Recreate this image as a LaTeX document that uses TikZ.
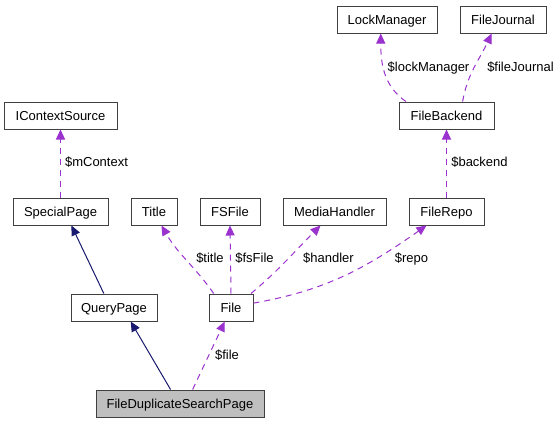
\documentclass[tikz,border=0pt]{standalone}
\usepackage{fontspec}
\setmainfont{Liberation Sans}
\usetikzlibrary{arrows.meta}
\definecolor{cuse}{HTML}{9A32CD}
\definecolor{cinh}{HTML}{191970}
\tikzset{
  cls/.style={draw=black!75,line width=1pt,minimum height=27pt,inner sep=0pt,text height=12.3pt,text depth=3pt},
  uses/.style={cuse,line width=1pt,dash pattern=on 6pt off 5pt,-{Triangle[length=10pt,width=9pt]}},
  inherits/.style={cinh,line width=1pt,-{Triangle[length=10pt,width=9pt]}},
  lbl/.style={inner sep=0pt,text height=12.3pt,text depth=3pt}
}
\begin{document}
\begin{tikzpicture}[x=1pt,y=-1pt,font=\fontsize{13}{15}\selectfont]
\useasboundingbox (0,0) rectangle (560,424);
\node[cls,minimum width=100pt] (lm) at (387,19.5) {LockManager};
\node[cls,minimum width=86pt] (fj) at (503,19.5) {FileJournal};
\node[cls,minimum width=113pt] (ics) at (60.5,115.5) {IContextSource};
\node[cls,minimum width=95pt] (fb) at (446.5,115.5) {FileBackend};
\node[cls,minimum width=95pt] (sp) at (60.5,211.5) {SpecialPage};
\node[cls,minimum width=46pt] (title) at (154,211.5) {Title};
\node[cls,minimum width=60pt] (fsf) at (230,211.5) {FSFile};
\node[cls,minimum width=103pt] (mh) at (334.5,211.5) {MediaHandler};
\node[cls,minimum width=75pt] (fr) at (446.5,211.5) {FileRepo};
\node[cls,minimum width=86pt] (qp) at (114,307.5) {QueryPage};
\node[cls,minimum width=44pt] (file) at (231,307.5) {File};
\node[cls,minimum width=168pt,fill=black!25] (fdsp) at (180,403.5) {FileDuplicateSearchPage};
% inheritance
\draw[inherits] (qp.126) -- (sp.-52);
\draw[inherits] (fdsp.124) -- (qp.-40);
% members
\draw[uses] (sp.north) -- (ics.south);
\node[lbl] (l1) at (96.5,162) {\$mContext};
\draw[uses] (fdsp.48) -- (file.-114);
\node[lbl] (l2) at (227,355) {\$file};
\draw[uses] (file.141) to[out=125,in=-60] (title.-62);
\node[lbl] (l3) at (210,258) {\$title};
\draw[uses] (file.north) -- (fsf.south);
\node[lbl] (l4) at (254.5,258) {\$fsFile};
\draw[uses] (file.35) to[out=40,in=-135] (mh.-135);
\node[lbl] (l5) at (328.5,258) {\$handler};
\draw[uses] (file.11) to[out=10,in=-145] (fr.-145);
\node[lbl] (l6) at (411.5,258) {\$repo};
\draw[uses] (fr.north) -- (fb.south);
\node[lbl] (l7) at (479.5,162) {\$backend};
\draw[uses] (fb.161) to[out=145,in=-90] (lm.-114);
\node[lbl] (l8) at (428.5,67) {\$lockManager};
\draw[uses] (fb.41) to[out=80,in=-115] (fj.-129);
\node[lbl] (l9) at (520.5,67) {\$fileJournal};
\end{tikzpicture}
\end{document}
